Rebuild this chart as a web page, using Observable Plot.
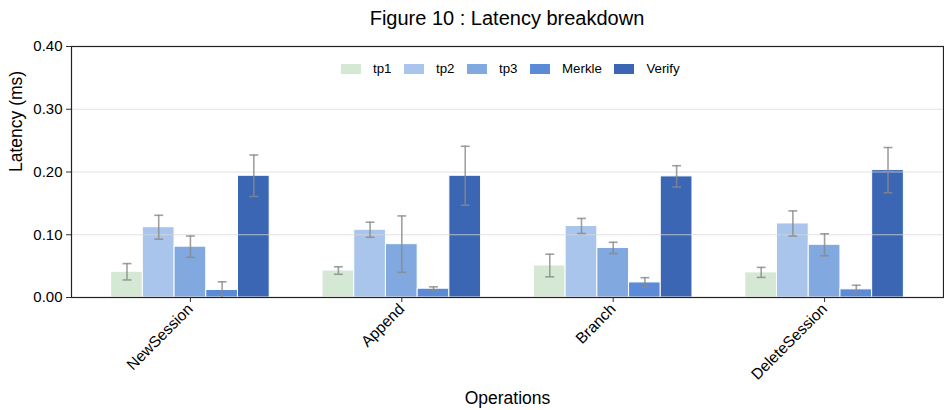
<!DOCTYPE html>
<html>
<head>
<meta charset="utf-8">
<script src="https://cdn.jsdelivr.net/npm/d3@7"></script>
<script src="https://cdn.jsdelivr.net/npm/@observablehq/plot@0.6"></script>
<style>
  body { margin: 0; background: #fff; font-family: "Liberation Sans", Arial, sans-serif; }
  #wrap { position: relative; width: 944px; }
  #title { height: 36px; line-height: 36px; font-size: 20px; text-align: center; padding-left: 71px; padding-right: 1px; box-sizing: border-box; color: #000; }
  #legend { position: absolute; top: 61px; left: 341px; display: flex; align-items: center; font-size: 13.3px; color: #000; }
  #legend .item { display: flex; align-items: center; margin-right: 12.5px; }
  #legend .sw { width: 20px; height: 10px; margin-right: 12px; }
</style>
</head>
<body>
<div id="wrap">
  <div id="title">Figure 10 : Latency breakdown</div>
  <div id="legend"></div>
  <div id="chart"></div>
</div>
<script>
const categories = ["NewSession", "Append", "Branch", "DeleteSession"];
const series = ["tp1", "tp2", "tp3", "Merkle", "Verify"];
const colors = ["#d5e8d4", "#a9c5ec", "#81a9e0", "#5b8bd8", "#3a66b4"];

const tp1 = [0.041, 0.043, 0.051, 0.040];
const tp2 = [0.112, 0.108, 0.114, 0.118];
const tp3 = [0.081, 0.085, 0.079, 0.084];
const merkle = [0.012, 0.014, 0.024, 0.013];
const verify = [0.194, 0.194, 0.193, 0.203];

const tp1Err = [0.013, 0.006, 0.018, 0.008];
const tp2Err = [0.019, 0.012, 0.012, 0.020];
const tp3Err = [0.017, 0.045, 0.009, 0.0175];
const merkleErr = [0.013, 0.003, 0.0076, 0.0065];
const verifyErr = [0.033, 0.047, 0.017, 0.036];

const yTicks = [0, 0.1, 0.2, 0.3, 0.4];

const means = [tp1, tp2, tp3, merkle, verify];
const errs = [tp1Err, tp2Err, tp3Err, merkleErr, verifyErr];

const barW = 0.15;
const capHalf = 0.021;
const data = [];
series.forEach((s, si) => {
  categories.forEach((c, ci) => {
    const center = ci + (si - 2) * barW;
    data.push({
      series: s, category: c,
      x1: center - barW / 2, x2: center + barW / 2, xc: center,
      value: means[si][ci], err: errs[si][ci]
    });
  });
});

const font = '"Liberation Sans", Arial, sans-serif';

const chart = Plot.plot({
  width: 944,
  height: 374,
  marginLeft: 71,
  marginRight: 1,
  marginTop: 10,
  marginBottom: 113,
  style: { fontFamily: font, fontSize: "15px", color: "#000", background: "#fff" },
  x: { domain: [-0.5625, 3.5625] },
  y: { domain: [0, 0.4] },
  color: { domain: series, range: colors },
  marks: [
    Plot.rectY(data, { x1: "x1", x2: "x2", y1: 0, y2: "value", fill: "series", stroke: "#fff", strokeWidth: 1 }),
    Plot.gridY(yTicks.slice(1, 4), { stroke: "#d8d8d8", strokeOpacity: 0.75, strokeWidth: 1 }),
    Plot.ruleX(data, { x: "xc", y1: d => Math.max(0, d.value - d.err), y2: d => d.value + d.err, stroke: "#888", strokeOpacity: 0.8, strokeWidth: 1.6 }),
    Plot.link(data, { x1: d => d.xc - capHalf, x2: d => d.xc + capHalf, y1: d => d.value + d.err, y2: d => d.value + d.err, stroke: "#888", strokeOpacity: 0.8, strokeWidth: 1.6 }),
    Plot.link(data.filter(d => d.value - d.err > 0), { x1: d => d.xc - capHalf, x2: d => d.xc + capHalf, y1: d => d.value - d.err, y2: d => d.value - d.err, stroke: "#888", strokeOpacity: 0.8, strokeWidth: 1.6 }),
    Plot.frame({ stroke: "#222", strokeWidth: 1.2 }),
    Plot.axisY({ ticks: yTicks, tickFormat: d3.format(".2f"), tickSize: 5, tickPadding: 4, label: null, fontSize: 15, stroke: "#333" }),
    Plot.axisX({ ticks: [0, 1, 2, 3], tickFormat: i => categories[i], tickSize: 5, tickPadding: 4, tickRotate: -45, label: null, fontSize: 15.5, stroke: "#333" }),
    Plot.text(["Latency (ms)"], { frameAnchor: "left", rotate: -90, dx: -55, fontSize: 17.5, fill: "#000" }),
    Plot.text(["Operations"], { frameAnchor: "bottom", dy: 106, fontSize: 17.5, fill: "#000" })
  ]
});
document.getElementById("chart").appendChild(chart);

const legend = document.getElementById("legend");
series.forEach((s, i) => {
  const item = document.createElement("div");
  item.className = "item";
  const sw = document.createElement("div");
  sw.className = "sw";
  sw.style.background = colors[i];
  const lab = document.createElement("span");
  lab.textContent = s;
  item.appendChild(sw);
  item.appendChild(lab);
  legend.appendChild(item);
});
</script>
</body>
</html>
